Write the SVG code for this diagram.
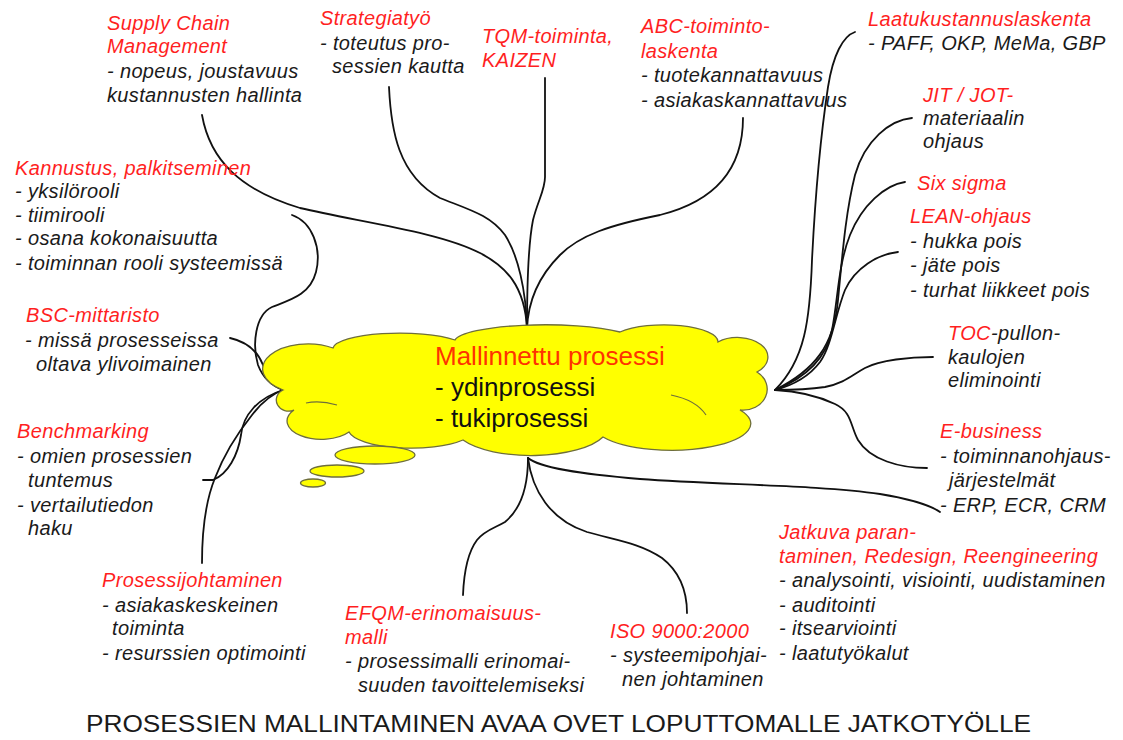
<svg xmlns="http://www.w3.org/2000/svg" width="1123" height="740" viewBox="0 0 1123 740">
  <style>
    .t { font-family: "Liberation Sans", Arial, sans-serif; font-size: 20px; font-style: italic; letter-spacing: 0.35px; }
    .r { fill: #ff1f1f; }
    .k { fill: #1a1a1a; }
    .link { fill: none; stroke: #111; stroke-width: 1.8; stroke-linecap: round; }
    .cloud { fill: #ffff00; stroke: #6e6e3c; stroke-width: 1.3; }
    .inner { fill: none; stroke: #6e6e3c; stroke-width: 1.2; }
    .title { font-family: "Liberation Sans", Arial, sans-serif; font-size: 24px; fill: #1a1a1a; }
  </style>
  <rect width="1123" height="740" fill="#ffffff"/>

  <!-- connectors: curved branches from the central cloud -->
  <g id="connectors">
    <!-- top hub -->
    <path class="link" d="M202,115 C210,160 240,190 300,208 C360,222 440,232 480,253 C505,266 525,285 527,329"/>
    <path class="link" d="M389,87 C391,130 398,175 440,198 C470,210 490,215 505,235 C518,255 526,290 527,329"/>
    <path class="link" d="M545,78 L545,177 C545,190 538,200 533,220 C528,245 527,290 527,329"/>
    <path class="link" d="M743,118 C743,165 720,200 660,215 C610,225 580,235 560,255 C540,275 528,300 527,329"/>
    <!-- left hub -->
    <path class="link" d="M292,215 C312,222 322,248 316,272 C310,295 290,300 272,307 C255,315 252,345 258,365 C263,378 272,386 283,390"/>
    <path class="link" d="M230,338 C248,342 258,352 263,365 C268,378 275,386 283,390"/>
    <path class="link" d="M203,480 L213,480 C228,474 238,455 241,435 C243,415 258,398 283,390"/>
    <path class="link" d="M202,563 C202,530 206,500 215,478 C225,452 240,430 252,415 C262,402 272,394 283,390"/>
    <!-- right hub -->
    <path class="link" d="M855,32 C843,36 833,55 828,87 C820,140 815,200 812,260 C810,320 805,360 775,390"/>
    <path class="link" d="M912,118 C890,120 865,140 855,175 C845,215 842,260 838,300 C834,345 815,370 775,390"/>
    <path class="link" d="M905,182 C885,185 862,205 850,235 C838,265 838,300 832,330 C826,360 805,378 775,390"/>
    <path class="link" d="M898,252 C878,254 855,268 845,290 C835,315 832,345 820,362 C808,378 790,386 775,390"/>
    <path class="link" d="M933,357 C910,357 880,360 865,368 C852,375 845,383 825,387 C805,390 790,390 775,390"/>
    <path class="link" d="M927,468 C900,468 870,460 858,440 C850,425 852,412 835,404 C818,396 795,391 775,390"/>
    <!-- bottom hub -->
    <path class="link" d="M528,458 C540,468 580,474 640,479 C720,485 820,485 880,494 C910,499 930,505 940,512"/>
    <path class="link" d="M528,458 C528,485 522,508 505,522 C495,528 485,530 477,540 C468,552 464,570 463,595"/>
    <path class="link" d="M528,458 C532,490 550,520 587,532 C615,540 640,543 662,558 C680,572 687,592 687,613"/>
  </g>

  <!-- central thought cloud -->
  <g id="cloud">
    <path class="cloud" d="M283,390 A36 20 0 0 1 333,348 A67 16 0 0 1 455,340 A91 17 0 0 1 620,332 A54 17 0 0 1 718,342 A28 18 0 0 1 757,372 A24 21 0 0 1 740,410 A77 26 0 0 1 603,437 A77 29 0 0 1 463,440 A63 19 0 0 1 349,432 A32 17 0 0 1 294,410 A12 11 0 0 1 283,390 Z"/>
    <path class="inner" d="M306,403 Q320,400 337,405"/>
    <path class="inner" d="M671,395 Q696,400 706,415"/>
    <ellipse class="cloud" cx="375" cy="455" rx="40" ry="9"/>
    <ellipse class="cloud" cx="337" cy="471" rx="27" ry="6"/>
    <ellipse class="cloud" cx="313" cy="483" rx="12.5" ry="4"/>
    <text font-family="Liberation Sans, Arial, sans-serif" font-size="26" x="435" y="365" fill="#ff3300">Mallinnettu prosessi</text>
    <text font-family="Liberation Sans, Arial, sans-serif" font-size="26" x="435" y="396" fill="#111">- ydinprosessi</text>
    <text font-family="Liberation Sans, Arial, sans-serif" font-size="26" x="435" y="427" fill="#111">- tukiprosessi</text>
  </g>

  <g id="scm" class="t">
    <text class="r" x="107" y="30">Supply Chain</text>
    <text class="r" x="107" y="53">Management</text>
    <text class="k" x="107" y="78">- nopeus, joustavuus</text>
    <text class="k" x="107" y="102">kustannusten hallinta</text>
  </g>

  <g id="strategia" class="t">
    <text class="r" x="320" y="25">Strategiatyö</text>
    <text class="k" x="320" y="50">- toteutus pro-</text>
    <text class="k" x="332" y="73">sessien kautta</text>
  </g>

  <g id="tqm" class="t">
    <text class="r" x="482" y="43">TQM-toiminta,</text>
    <text class="r" x="482" y="67">KAIZEN</text>
  </g>

  <g id="abc" class="t">
    <text class="r" x="641" y="33">ABC-toiminto-</text>
    <text class="r" x="641" y="58">laskenta</text>
    <text class="k" x="641" y="82">- tuotekannattavuus</text>
    <text class="k" x="641" y="107">- asiakaskannattavuus</text>
  </g>

  <g id="laatukustannus" class="t">
    <text class="r" x="868" y="26">Laatukustannuslaskenta</text>
    <text class="k" x="868" y="50">- PAFF, OKP, MeMa, GBP</text>
  </g>

  <g id="jit" class="t">
    <text class="r" x="923" y="102">JIT / JOT-</text>
    <text class="k" x="923" y="125">materiaalin</text>
    <text class="k" x="923" y="148">ohjaus</text>
  </g>

  <g id="sixsigma" class="t">
    <text class="r" x="917" y="190">Six sigma</text>
  </g>

  <g id="lean" class="t">
    <text class="r" x="910" y="223">LEAN-ohjaus</text>
    <text class="k" x="910" y="248">- hukka pois</text>
    <text class="k" x="910" y="272">- jäte pois</text>
    <text class="k" x="910" y="297">- turhat liikkeet pois</text>
  </g>

  <g id="toc" class="t">
    <text x="948" y="340"><tspan class="r">TOC</tspan><tspan class="k">-pullon-</tspan></text>
    <text class="k" x="948" y="364">kaulojen</text>
    <text class="k" x="948" y="387">eliminointi</text>
  </g>

  <g id="ebusiness" class="t">
    <text class="r" x="940" y="438">E-business</text>
    <text class="k" x="940" y="463">- toiminnanohjaus-</text>
    <text class="k" x="949" y="487">järjestelmät</text>
    <text class="k" x="940" y="512">- ERP, ECR, CRM</text>
  </g>

  <g id="jatkuva" class="t">
    <text class="r" x="779" y="539">Jatkuva paran-</text>
    <text class="r" x="779" y="563">taminen, Redesign, Reengineering</text>
    <text class="k" x="779" y="587">- analysointi, visiointi, uudistaminen</text>
    <text class="k" x="779" y="612">- auditointi</text>
    <text class="k" x="779" y="635">- itsearviointi</text>
    <text class="k" x="779" y="660">- laatutyökalut</text>
  </g>

  <g id="iso" class="t">
    <text class="r" x="610" y="638">ISO 9000:2000</text>
    <text class="k" x="610" y="662">- systeemipohjai-</text>
    <text class="k" x="622" y="686">nen johtaminen</text>
  </g>

  <g id="efqm" class="t">
    <text class="r" x="345" y="620">EFQM-erinomaisuus-</text>
    <text class="r" x="345" y="644">malli</text>
    <text class="k" x="345" y="668">- prosessimalli erinomai-</text>
    <text class="k" x="358" y="692">suuden tavoittelemiseksi</text>
  </g>

  <g id="prosessijohtaminen" class="t">
    <text class="r" x="102" y="587">Prosessijohtaminen</text>
    <text class="k" x="102" y="612">- asiakaskeskeinen</text>
    <text class="k" x="112" y="635">toiminta</text>
    <text class="k" x="102" y="660">- resurssien optimointi</text>
  </g>

  <g id="benchmarking" class="t">
    <text class="r" x="17" y="438">Benchmarking</text>
    <text class="k" x="17" y="463">- omien prosessien</text>
    <text class="k" x="28" y="487">tuntemus</text>
    <text class="k" x="17" y="512">- vertailutiedon</text>
    <text class="k" x="28" y="535">haku</text>
  </g>

  <g id="bsc" class="t">
    <text class="r" x="26" y="322">BSC-mittaristo</text>
    <text class="k" x="25" y="347">- missä prosesseissa</text>
    <text class="k" x="36" y="371">oltava ylivoimainen</text>
  </g>

  <g id="kannustus" class="t">
    <text class="r" x="15" y="175">Kannustus, palkitseminen</text>
    <text class="k" x="15" y="198">- yksilörooli</text>
    <text class="k" x="15" y="222">- tiimirooli</text>
    <text class="k" x="15" y="245">- osana kokonaisuutta</text>
    <text class="k" x="15" y="270">- toiminnan rooli systeemissä</text>
  </g>

  <g id="caption">
    <text class="title" x="86" y="732" textLength="945" lengthAdjust="spacingAndGlyphs">PROSESSIEN MALLINTAMINEN AVAA OVET LOPUTTOMALLE JATKOTYÖLLE</text>
  </g>
</svg>
